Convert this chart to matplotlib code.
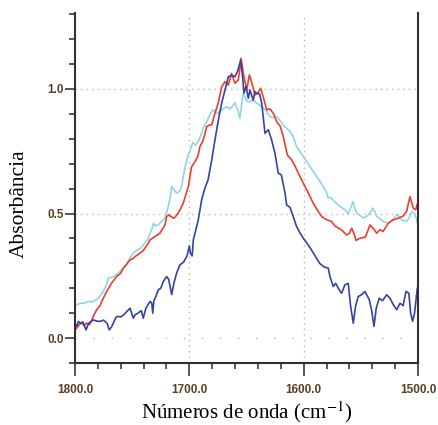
import matplotlib
matplotlib.use('Agg')
import matplotlib.pyplot as plt
from matplotlib.ticker import MultipleLocator

plt.rcParams['mathtext.fontset'] = 'stix'

# dark blue spectrum
wn_blue = [1800.0, 1798.5, 1797, 1795.6, 1793, 1790.4, 1788, 1784, 1781, 1778.1, 1775, 1772, 1770, 1768,
           1765, 1763.5, 1760, 1757, 1754, 1751.9, 1749, 1747.5, 1745, 1742, 1740.3, 1738, 1736, 1734.4,
           1732.8, 1732, 1731, 1729, 1727.1, 1725, 1722.8, 1719.8, 1718, 1716.5, 1715.4, 1713.5, 1711.1,
           1708.2, 1705, 1702, 1700, 1699, 1697.5, 1696.5, 1694, 1692.2, 1689.2, 1686.5, 1683.6, 1680.4,
           1677.6, 1674.6, 1671.7, 1668.8, 1665.9, 1663, 1660.1, 1657.5, 1655.1, 1653.4, 1652.2, 1650.5,
           1648.4, 1647, 1644.1, 1642.6, 1641.1, 1638.5, 1636.7, 1633.8, 1630.9, 1628, 1625.1, 1622.2,
           1619.5, 1616.3, 1614.9, 1612, 1609.1, 1606.2, 1603.5, 1600.3, 1597, 1594, 1590, 1586, 1582,
           1578.5, 1577, 1574.1, 1572, 1569.7, 1566.8, 1563.9, 1561, 1558.9, 1556.6, 1554.5, 1552.2, 1549,
           1546.4, 1542.6, 1540.5, 1538.5, 1536.5, 1533.9, 1531, 1527.4, 1524.5, 1521.6, 1518.6, 1515.7,
           1513, 1510.5, 1508, 1506.4, 1504.7, 1503, 1500.6, 1500.0]
abs_blue = [0.06, 0.047, 0.067, 0.06, 0.065, 0.033, 0.06, 0.073, 0.068, 0.067, 0.072, 0.06, 0.033, 0.045,
            0.075, 0.087, 0.085, 0.095, 0.11, 0.12, 0.08, 0.093, 0.10, 0.11, 0.08, 0.12, 0.135, 0.147,
            0.14, 0.10, 0.15, 0.17, 0.194, 0.20, 0.227, 0.247, 0.235, 0.20, 0.175, 0.22, 0.261,
            0.294, 0.305, 0.33, 0.37, 0.34, 0.33, 0.394, 0.44, 0.474, 0.555, 0.60, 0.635, 0.715,
            0.795, 0.876, 0.943, 0.996, 1.049, 1.055, 1.049, 1.075, 1.116, 1.049, 0.983, 1.01,
            0.963, 0.996, 0.955, 0.989, 0.983, 0.98, 0.943, 0.822, 0.836, 0.795, 0.742, 0.662,
            0.655, 0.582, 0.535, 0.525, 0.488, 0.448, 0.425, 0.401, 0.38, 0.36, 0.33, 0.30, 0.285,
            0.281, 0.247, 0.207, 0.22, 0.20, 0.18, 0.214, 0.22, 0.127, 0.06, 0.13, 0.167, 0.175,
            0.187, 0.154, 0.11, 0.047, 0.12, 0.16, 0.15, 0.174, 0.16, 0.134, 0.114, 0.14,
            0.13, 0.187, 0.18, 0.10, 0.067, 0.10, 0.20, 0.205]

# red spectrum
wn_red = [1800, 1798.5, 1796, 1794, 1792, 1790, 1787, 1784, 1781, 1778, 1776.7, 1772.3, 1767.9, 1763.6,
          1760, 1757.8, 1755, 1751.9, 1749, 1747.5, 1743.2, 1740.5, 1738.8, 1736, 1734.4, 1730, 1725.7,
          1721.3, 1719.8, 1718, 1716.9, 1713.4, 1709.7, 1705.3, 1700.9, 1698, 1695, 1692.5, 1690.7,
          1687.8, 1684.8, 1682.5, 1680.4, 1677.6, 1674.7, 1671.7, 1668.8, 1665.9, 1663, 1660.1, 1657.2,
          1655.5, 1654.8, 1652.2, 1649.8, 1647.5, 1645, 1642.6, 1640, 1637.6, 1635.5, 1632.3, 1629.5,
          1626.5, 1623.6, 1620.5, 1617.8, 1614.3, 1610.5, 1607.5, 1604.7, 1600.3, 1595.9, 1591.6,
          1587.2, 1584.2, 1579.9, 1575.5, 1572.6, 1569, 1566.8, 1562.4, 1560, 1558, 1556, 1554.2,
          1550.7, 1546, 1542, 1539, 1536.1, 1533, 1530.5, 1526, 1521.6, 1517.2, 1513, 1510, 1507,
          1504.1, 1502, 1500.6, 1500]
abs_red = [0.033, 0.04, 0.055, 0.06, 0.05, 0.06, 0.055, 0.087, 0.114, 0.13, 0.147, 0.187, 0.221, 0.247,
           0.26, 0.281, 0.295, 0.314, 0.32, 0.327, 0.341, 0.35, 0.361, 0.38, 0.394, 0.408, 0.421,
           0.454, 0.488, 0.495, 0.49, 0.481, 0.501, 0.541, 0.608, 0.688, 0.708, 0.73, 0.769,
           0.795, 0.849, 0.855, 0.856, 0.902, 0.943, 1.009, 1.029, 1.016, 1.063, 1.023, 1.036,
           1.09, 1.123, 1.049, 0.996, 1.056, 1.02, 0.976, 0.985, 1.003, 0.97, 0.916, 0.92,
           0.902, 0.869, 0.85, 0.809, 0.735, 0.715, 0.69, 0.662, 0.622, 0.582, 0.541,
           0.508, 0.488, 0.475, 0.468, 0.45, 0.44, 0.434, 0.414, 0.42, 0.441, 0.42, 0.392,
           0.401, 0.405, 0.454, 0.44, 0.421, 0.435, 0.428, 0.461, 0.475, 0.481, 0.49, 0.508, 0.568,
           0.521, 0.515, 0.539, 0.54]

# light blue spectrum
wn_cyan = [1800, 1798.5, 1795, 1792, 1788.4, 1785, 1781, 1779.6, 1775.2, 1772, 1770.9, 1767, 1762.1,
           1759, 1756.3, 1752, 1750.4, 1747.5, 1743, 1738.8, 1736, 1734.4, 1732.5, 1731.5, 1729.5,
           1727, 1724, 1721.3, 1718.4, 1716.5, 1715.4, 1713.5, 1711.1, 1708.5, 1706.8, 1704, 1701.5,
           1699.5, 1697, 1694.5, 1692.2, 1689.5, 1687.9, 1685, 1683.5, 1680.5, 1679.1, 1676.5, 1674.8,
           1671.8, 1669, 1667.5, 1664.5, 1662.5, 1660.2, 1658.5, 1657.3, 1655.8, 1654.4, 1653, 1651.5,
           1649.5, 1647.1, 1644.5, 1641.1, 1638.3, 1635.4, 1632.5, 1629.5, 1626.5, 1623.6, 1620.9,
           1617.9, 1614.9, 1612, 1609.2, 1606.2, 1603.4, 1600.3, 1597.5, 1594.5, 1591.7, 1588.6,
           1585.9, 1582.8, 1580.1, 1578.4, 1576.5, 1574.3, 1571.2, 1568.5, 1565.5, 1563.9, 1561,
           1559, 1556.9, 1555, 1553.6, 1550, 1548, 1545, 1542.2, 1539.4, 1537.5, 1536, 1533,
           1530.6, 1526.2, 1521.9, 1518.6, 1516, 1514.3, 1510.5, 1508, 1505.5, 1503, 1501.5, 1500]
abs_cyan = [0.134, 0.134, 0.14, 0.14, 0.147, 0.145, 0.155, 0.16, 0.187, 0.22, 0.241, 0.245, 0.261,
            0.275, 0.287, 0.32, 0.334, 0.347, 0.36, 0.381, 0.40, 0.421, 0.44, 0.461, 0.45,
            0.455, 0.47, 0.481, 0.528, 0.57, 0.608, 0.595, 0.582, 0.59, 0.608, 0.68, 0.73,
            0.749, 0.785, 0.775, 0.789, 0.82, 0.842, 0.865, 0.882, 0.91, 0.916, 0.905, 0.902,
            0.916, 0.925, 0.929, 0.92, 0.93, 0.945, 0.925, 0.91, 0.882, 0.935, 0.98, 0.97,
            0.95, 0.949, 0.955, 0.943, 0.935, 0.925, 0.91, 0.889, 0.885, 0.889, 0.875,
            0.855, 0.842, 0.83, 0.81, 0.769, 0.75, 0.728, 0.71, 0.688, 0.67, 0.648,
            0.63, 0.608, 0.585, 0.561, 0.565, 0.555, 0.54, 0.53, 0.52, 0.515, 0.50,
            0.52, 0.548, 0.52, 0.502, 0.49, 0.482, 0.488, 0.50, 0.522, 0.505, 0.488, 0.478,
            0.468, 0.462, 0.475, 0.495, 0.485, 0.475, 0.468, 0.48, 0.508, 0.50, 0.48, 0.455]

x_ticks = [1800, 1700, 1600, 1500]
x_ticklabels = ['1800.0', '1700.0', '1600.0', '1500.0']
y_ticks = [0.0, 0.5, 1.0]
y_ticklabels = ['0.0', '0.5', '1.0']

fig = plt.figure(figsize=(4.38, 4.25), dpi=100)
ax = fig.add_axes([0.1712, 0.1459, 0.7831, 0.8235])

# grid
for g in [1700, 1600]:
    ax.axvline(g, color='#b8b8b8', lw=1, ls=(0, (1, 3)), zorder=0)
for g in [0.5, 1.0]:
    ax.axhline(g, color='#b8b8b8', lw=1, ls=(0, (1, 3)), zorder=0)
ax.axhline(0.0, color='#b8b8b8', lw=1, ls=(0, (1, 12)), zorder=0)

ax.plot(wn_cyan, abs_cyan, color='#8ed6e6', lw=1.2)
ax.plot(wn_red, abs_red, color='#f03c2c', lw=1.2)
ax.plot(wn_blue, abs_blue, color='#3444a0', lw=1.2)

ax.set_xlim(1800, 1500)
ax.set_ylim(-0.1, 1.305)

ax.set_xticks(x_ticks)
ax.set_xticklabels(x_ticklabels)
ax.set_yticks(y_ticks)
ax.set_yticklabels(y_ticklabels)
ax.xaxis.set_minor_locator(MultipleLocator(20))
ax.yaxis.set_minor_locator(MultipleLocator(0.1))

tick_color = '#3a3a3a'
label_color = '#5a4126'
ax.tick_params(axis='both', which='major', direction='out', color=tick_color, width=1.2,
               labelsize=8.5, labelcolor=label_color)
ax.tick_params(axis='x', which='major', length=9, pad=6)
ax.tick_params(axis='y', which='major', length=7, pad=1)
ax.tick_params(axis='both', which='minor', direction='out', color=tick_color, width=1.2, length=4)
for lab in ax.get_xticklabels() + ax.get_yticklabels():
    lab.set_fontweight('bold')
    lab.set_family('Liberation Sans')

for s in ['left', 'bottom', 'right']:
    ax.spines[s].set_color('#303030')
    ax.spines[s].set_linewidth(1.5)
ax.spines['top'].set_visible(False)

ax.set_xlabel('Números de onda (cm$^{-1}$)', family='Liberation Serif', fontsize=15)
ax.set_ylabel('Absorbância', family='Liberation Serif', fontsize=15.5)
ax.xaxis.set_label_coords(0.5, -0.105)
ax.yaxis.set_label_coords(-0.163, 0.454)
ax.yaxis.label.set_va('center')

fig.savefig('out.png', dpi=100)
